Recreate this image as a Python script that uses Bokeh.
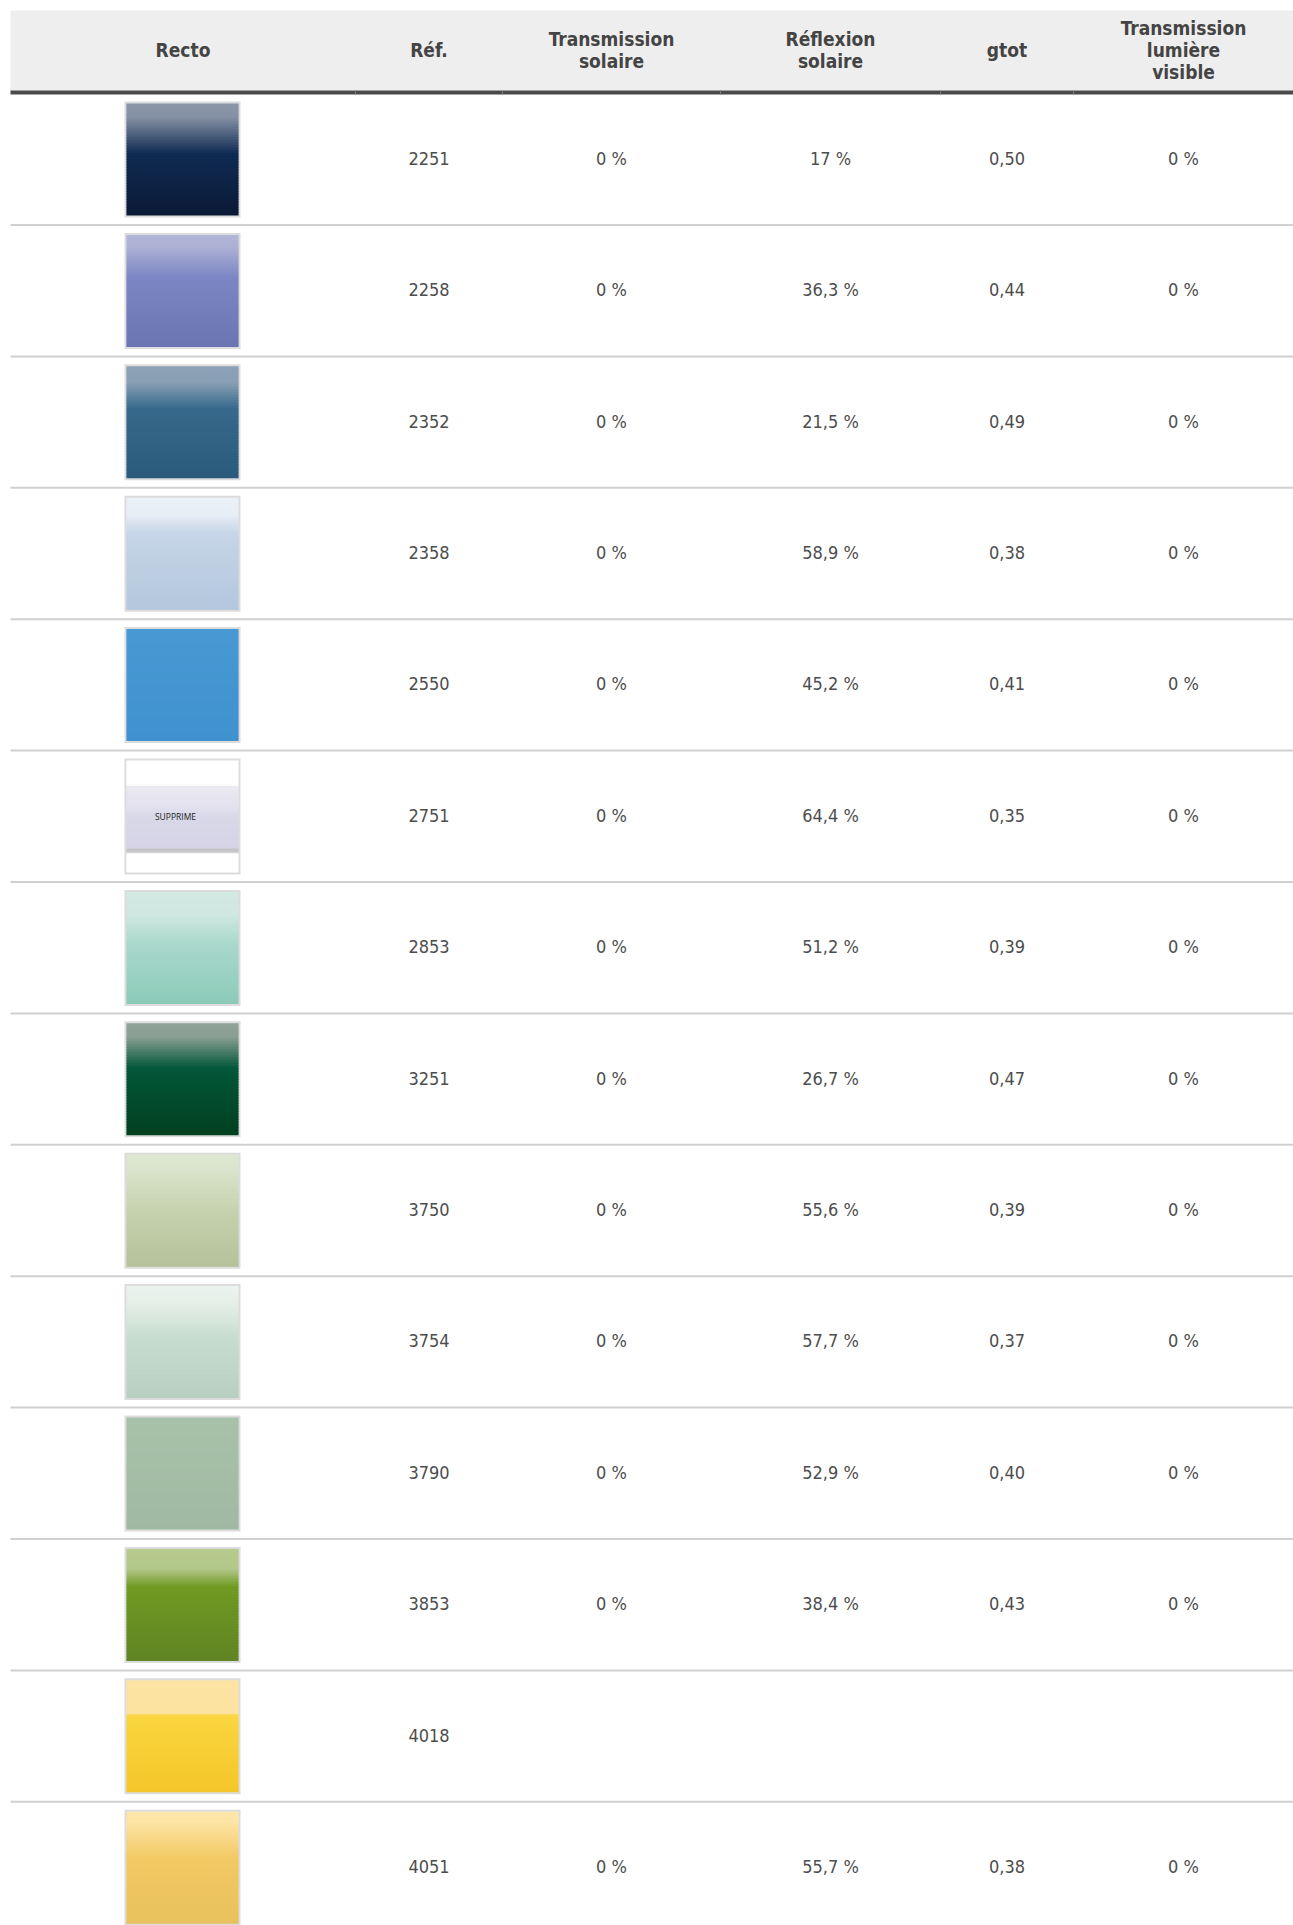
import numpy as np
from bokeh.plotting import figure
from bokeh.models import ColumnDataSource, Range1d
from bokeh.core.properties import value
from bokeh.embed import file_html
from bokeh.resources import INLINE

# ---------------- data ----------------
headers = ["Recto", "Réf.", "Transmission\nsolaire", "Réflexion\nsolaire", "gtot",
           "Transmission\nlumière\nvisible"]
refs = ["2251", "2258", "2352", "2358", "2550", "2751", "2853", "3251", "3750",
        "3754", "3790", "3853", "4018", "4051"]
transmission_solaire = [0, 0, 0, 0, 0, 0, 0, 0, 0, 0, 0, 0, None, 0]
reflexion_solaire = [17, 36.3, 21.5, 58.9, 45.2, 64.4, 51.2, 26.7, 55.6, 57.7, 52.9, 38.4, None, 55.7]
gtot = [0.50, 0.44, 0.49, 0.38, 0.41, 0.35, 0.39, 0.47, 0.39, 0.37, 0.40, 0.43, None, 0.38]
transmission_lumiere = [0, 0, 0, 0, 0, 0, 0, 0, 0, 0, 0, 0, None, 0]
swatch_notes = ["", "", "", "", "", "SUPPRIME", "", "", "", "", "", "", "", ""]

# swatch appearance: gradient stops (fraction from top, colour)
swatch_stops = [
    [(0, "#8a95a8"), (0.12, "#8591a5"), (0.45, "#0f2b52"), (1, "#0b1a36")],
    [(0, "#b1b5d6"), (0.1, "#adb2d5"), (0.38, "#7c86c4"), (1, "#6b75b2")],
    [(0, "#8ca1b5"), (0.14, "#8aa0b4"), (0.38, "#37698c"), (1, "#2b5a7b")],
    [(0, "#eaf0f7"), (0.15, "#e8eef6"), (0.32, "#c6d5e7"), (1, "#b3c7dd")],
    [(0, "#4899d3"), (1, "#3f92cf")],
    [(0, "#ffffff"), (0.22, "#ffffff"), (0.225, "#ecebf2"), (0.42, "#e2e1ee"),
     (0.5, "#d9d8e9"), (0.78, "#d5d3e5"), (0.785, "#c3c3c8"), (0.82, "#c3c3c8"),
     (0.825, "#ffffff"), (1, "#ffffff")],
    [(0, "#d3e9e3"), (0.2, "#cfe7e0"), (0.48, "#a8d8cb"), (1, "#8ccab8")],
    [(0, "#8fa398"), (0.12, "#8a9f93"), (0.4, "#03573a"), (1, "#00401f")],
    [(0, "#dde7d2"), (0.12, "#dae4cc"), (0.5, "#c6d2ae"), (1, "#b5c19b")],
    [(0, "#eaf3ed"), (0.14, "#e6f0e9"), (0.45, "#c8ddd0"), (1, "#b7cfc1")],
    [(0, "#a8c2aa"), (1, "#a0b9a2")],
    [(0, "#b6ca8e"), (0.18, "#b2c78a"), (0.34, "#6f9a22"), (1, "#5f8424")],
    [(0, "#fde4a4"), (0.3, "#fde2a0"), (0.31, "#fad63e"), (1, "#f4c62a")],
    [(0, "#fde7ab"), (0.1, "#fde4a4"), (0.42, "#f2c963"), (1, "#e8c05d")],
]

# ---------------- layout / style ----------------
W, H = 1293, 1925
col_edges = [10, 355, 502, 720, 940, 1073, 1293]
TABLE_RIGHT = 1300
HEADER_TOP, HEADER_BOT = 10, 90
RULE_H = 4
ROW0 = HEADER_BOT + RULE_H
ROW_PITCH = 131.4
ROW_H = 129.5
SEP_H = 2
SW_LEFT, SW_RIGHT = 124, 240
SW_OFF, SW_H = 7, 116
BORDER = 2
N_STRIPS = 70

FONT = "DejaVu Sans Condensed"
TXT = "#4d4d4d"
HDR_TXT = "#444444"

p = figure(width=W, height=H, output_backend="svg", toolbar_location=None,
           x_range=Range1d(0, W), y_range=Range1d(H, 0),
           x_axis_location=None, y_axis_location=None, min_border=0,
           background_fill_color="white", border_fill_color="white")
p.grid.visible = False
p.outline_line_color = None

centers = [(col_edges[i] + col_edges[i + 1]) / 2 for i in range(len(col_edges) - 1)]

# header background and rule
p.quad(left=[col_edges[0]], right=[TABLE_RIGHT], top=[HEADER_TOP], bottom=[HEADER_BOT],
       fill_color="#eeeeee", line_color=None)
p.quad(left=[col_edges[0]], right=[TABLE_RIGHT], top=[HEADER_BOT], bottom=[HEADER_BOT + RULE_H],
       fill_color="#4a4a4a", line_color=None)
inner_edges = col_edges[1:-1]
p.quad(left=[e - 0.5 for e in inner_edges], right=[e + 0.5 for e in inner_edges],
       top=[HEADER_BOT] * len(inner_edges), bottom=[HEADER_BOT + RULE_H] * len(inner_edges),
       fill_color="#7a7a7a", line_color=None)

p.text(x=centers, y=[(HEADER_TOP + HEADER_BOT) / 2 - 0.5] * len(headers), text=headers,
       text_font=value(FONT), text_font_style="bold", text_font_size="19px",
       text_color=HDR_TXT, text_align="center", text_baseline="middle",
       text_line_height=1.0)

# rows
n = len(refs)
row_tops = [ROW0 + ROW_PITCH * i for i in range(n)]
row_mid = [t + ROW_H / 2 - 1 for t in row_tops]
sep_tops = [t + ROW_H for t in row_tops]

p.quad(left=[col_edges[0]] * n, right=[TABLE_RIGHT] * n, top=sep_tops,
       bottom=[s + SEP_H for s in sep_tops], fill_color="#d0d0d0", line_color=None)


def hex2rgb(h):
    h = h.lstrip("#")
    return np.array([int(h[i:i + 2], 16) for i in (0, 2, 4)], dtype=float)


def color_at(stops, f):
    for (p0, c0), (p1, c1) in zip(stops[:-1], stops[1:]):
        if p0 <= f <= p1:
            t = 0 if p1 == p0 else (f - p0) / (p1 - p0)
            c = hex2rgb(c0) * (1 - t) + hex2rgb(c1) * t
            return "#%02x%02x%02x" % tuple(int(round(v)) for v in c)
    return stops[-1][1]


# swatch frames
sw_tops = [t + SW_OFF for t in row_tops]
p.quad(left=[SW_LEFT] * n, right=[SW_RIGHT] * n, top=sw_tops,
       bottom=[t + SW_H for t in sw_tops], fill_color="#dcdcdc", line_color=None)

L, R, T, B, C = [], [], [], [], []
for i, stops in enumerate(swatch_stops):
    top = sw_tops[i] + BORDER
    hgt = SW_H - 2 * BORDER
    dh = hgt / N_STRIPS
    for k in range(N_STRIPS):
        f = (k + 0.5) / N_STRIPS
        L.append(SW_LEFT + BORDER)
        R.append(SW_RIGHT - BORDER)
        T.append(top + k * dh)
        B.append(min(top + (k + 1) * dh + 0.6, top + hgt))
        C.append(color_at(stops, f))
p.quad(source=ColumnDataSource(dict(l=L, r=R, t=T, b=B, c=C)),
       left="l", right="r", top="t", bottom="b", fill_color="c", line_color=None)

# notes inside swatches
nx, ny, nt = [], [], []
for i, note in enumerate(swatch_notes):
    if note:
        nx.append((SW_LEFT + SW_RIGHT) / 2 - 7)
        ny.append(sw_tops[i] + SW_H * 0.5)
        nt.append(note)
p.text(x=nx, y=ny, text=nt, text_font=value("Open Sans"), text_font_size="8.5px",
       text_color="#222222", text_align="center", text_baseline="middle")


def pct(v):
    if v is None:
        return ""
    s = ("%g" % v).replace(".", ",")
    return s + " %"


def dec2(v):
    if v is None:
        return ""
    return ("%.2f" % v).replace(".", ",")


cols = [
    refs,
    [pct(v) for v in transmission_solaire],
    [pct(v) for v in reflexion_solaire],
    [dec2(v) for v in gtot],
    [pct(v) for v in transmission_lumiere],
]
for j, vals in enumerate(cols):
    p.text(x=[centers[j + 1]] * n, y=row_mid, text=vals, text_font=value(FONT),
           text_font_size="18px", text_color=TXT, text_align="center",
           text_baseline="middle")

open("out.html", "w").write(file_html(p, INLINE))
